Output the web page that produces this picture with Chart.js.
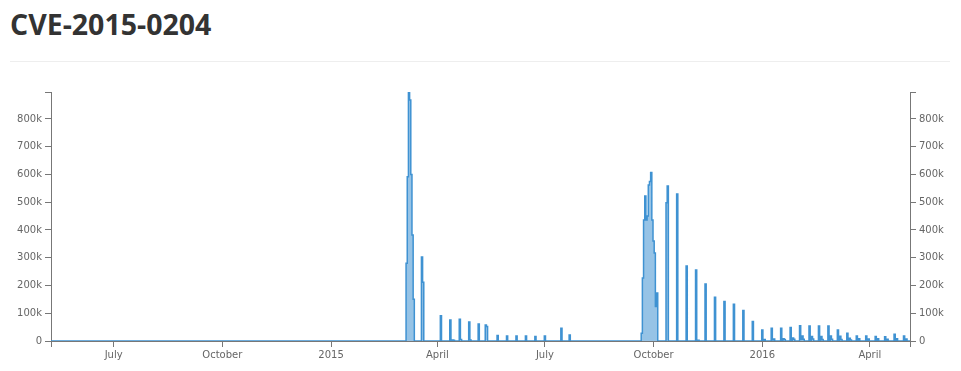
<!DOCTYPE html>
<html>
<head>
<meta charset="utf-8">
<script src="https://cdn.jsdelivr.net/npm/chart.js@4"></script>
<style>
  body { margin: 0; background: #fff; }
  #title {
    position: absolute; left: 10px; top: 10px;
    font: bold 28.5px/28px "Open Sans", sans-serif; color: #333;
  }
  #rule { position: absolute; left: 10px; top: 61px; width: 940px; height: 1px; background: #eee; }
  #chart { position: absolute; left: 0; top: 0; }
</style>
</head>
<body>
<div id="title">CVE-2015-0204</div>
<div id="rule"></div>
<canvas id="chart" width="961" height="371"></canvas>
<script>
// daily hit counts, days not listed are zero
const startDate = "2014-05-09";
const endDate = "2016-05-05";

const hitDates = [
  "2015-03-06", "2015-03-07", "2015-03-08", "2015-03-09", "2015-03-10", "2015-03-11", "2015-03-12",
  "2015-03-19", "2015-03-20",
  "2015-04-04", "2015-04-12", "2015-04-14", "2015-04-15", "2015-04-20", "2015-04-21",
  "2015-04-28", "2015-04-29", "2015-05-06", "2015-05-12", "2015-05-13",
  "2015-05-22", "2015-05-30", "2015-06-07", "2015-06-15", "2015-06-23", "2015-07-01",
  "2015-07-15", "2015-07-22",
  "2015-09-21", "2015-09-22", "2015-09-23", "2015-09-24", "2015-09-25", "2015-09-26",
  "2015-09-27", "2015-09-28", "2015-09-29", "2015-09-30", "2015-10-01", "2015-10-02",
  "2015-10-03", "2015-10-04",
  "2015-10-12", "2015-10-13", "2015-10-21", "2015-10-29", "2015-11-06", "2015-11-08",
  "2015-11-14", "2015-11-22", "2015-11-30", "2015-12-08", "2015-12-16", "2015-12-24",
  "2016-01-01", "2016-01-03", "2016-01-09", "2016-01-10", "2016-01-11",
  "2016-01-17", "2016-01-19", "2016-01-20", "2016-01-25", "2016-01-27", "2016-01-28",
  "2016-02-02", "2016-02-03", "2016-02-04", "2016-02-05", "2016-02-10", "2016-02-12", "2016-02-13",
  "2016-02-18", "2016-02-20", "2016-02-21", "2016-02-26", "2016-02-28", "2016-02-29",
  "2016-03-05", "2016-03-07", "2016-03-08", "2016-03-13", "2016-03-15", "2016-03-16",
  "2016-03-21", "2016-03-23", "2016-03-29", "2016-03-31", "2016-04-06", "2016-04-08",
  "2016-04-14", "2016-04-16", "2016-04-22", "2016-04-24", "2016-04-30", "2016-05-02"
];

const hitCounts = [
  280000, 592000, 897000, 868000, 600000, 382000, 150000,
  303000, 212000,
  91000, 76000, 4000, 3000, 78000, 5000,
  68000, 4000, 61000, 58000, 52000,
  20000, 18000, 18000, 18000, 16000, 18000,
  46000, 22000,
  28000, 227000, 436000, 522000, 436000, 450000,
  562000, 575000, 607000, 436000, 360000, 317000,
  124000, 173000,
  498000, 558000, 530000, 270000, 256000, 3000,
  205000, 158000, 142000, 132000, 110000, 70000,
  40000, 5000, 46000, 4000, 7000,
  46000, 8000, 5000, 49000, 11000, 6000,
  55000, 5000, 18000, 6000, 54000, 16000, 7000,
  54000, 16000, 5000, 54000, 18000, 6000,
  40000, 17000, 5000, 28000, 10000, 4000,
  18000, 8000, 18000, 7000, 16000, 8000,
  15000, 6000, 24000, 8000, 18000, 7000
];

const tickDates = ["2014-07-01", "2014-10-01", "2015-01-01", "2015-04-01",
                   "2015-07-01", "2015-10-01", "2016-01-01", "2016-04-01"];
const tickLabels = ["July", "October", "2015", "April", "July", "October", "2016", "April"];
const yTicks = [0, 100000, 200000, 300000, 400000, 500000, 600000, 700000, 800000];

const DAY = 86400000;
const t0 = Date.parse(startDate);
const t1 = Date.parse(endDate);
const lookup = new Map(hitDates.map((d, i) => [Date.parse(d), hitCounts[i]]));
const points = [];
for (let t = t0; t <= t1; t += DAY) points.push({ x: t, y: lookup.get(t) || 0 });

const tickTimes = tickDates.map((d) => Date.parse(d));
const yMax = Math.max(...hitCounts);

const axisColor = "#777";
const tickFont = { family: "DejaVu Sans, Verdana, sans-serif", size: 10 };

function yAxis(position) {
  return {
    position: position,
    min: 0,
    max: yMax,
    afterBuildTicks: (s) => { s.ticks = yTicks.concat([yMax]).map((v) => ({ value: v })); },
    afterFit: (s) => { s.width = 51; },
    ticks: {
      autoSkip: false,
      padding: 3,
      color: "#666",
      font: tickFont,
      callback: (v) => (v === yMax ? "" : v === 0 ? "0" : v / 1000 + "k"),
    },
    grid: { drawOnChartArea: false, drawTicks: true, tickLength: 6, color: axisColor },
    border: { display: true, color: axisColor },
  };
}

new Chart(document.getElementById("chart"), {
  type: "line",
  data: {
    datasets: [
      {
        label: "CVE-2015-0204",
        data: points,
        borderColor: "#3f92d2",
        backgroundColor: "rgba(63,146,210,0.55)",
        borderWidth: 1.5,
        fill: "origin",
        pointRadius: 0,
        stepped: "middle",
        yAxisID: "y",
      },
    ],
  },
  options: {
    responsive: false,
    animation: false,
    devicePixelRatio: 1,
    layout: { padding: { top: 92, left: 0, right: 0, bottom: 0 } },
    plugins: { legend: { display: false }, tooltip: { enabled: true } },
    scales: {
      x: {
        type: "linear",
        min: t0,
        max: t1,
        afterBuildTicks: (s) => { s.ticks = [t0].concat(tickTimes, [t1]).map((v) => ({ value: v })); },
        afterFit: (s) => { s.height = 30; },
        ticks: {
          autoSkip: false,
          maxRotation: 0,
          padding: 2,
          color: "#666",
          font: tickFont,
          callback: (v) => {
            const i = tickTimes.indexOf(v);
            return i < 0 ? "" : tickLabels[i];
          },
        },
        grid: { drawOnChartArea: false, drawTicks: true, tickLength: 6, color: axisColor },
        border: { display: true, color: axisColor },
      },
      y: yAxis("left"),
      y2: yAxis("right"),
    },
  },
});
</script>
</body>
</html>
